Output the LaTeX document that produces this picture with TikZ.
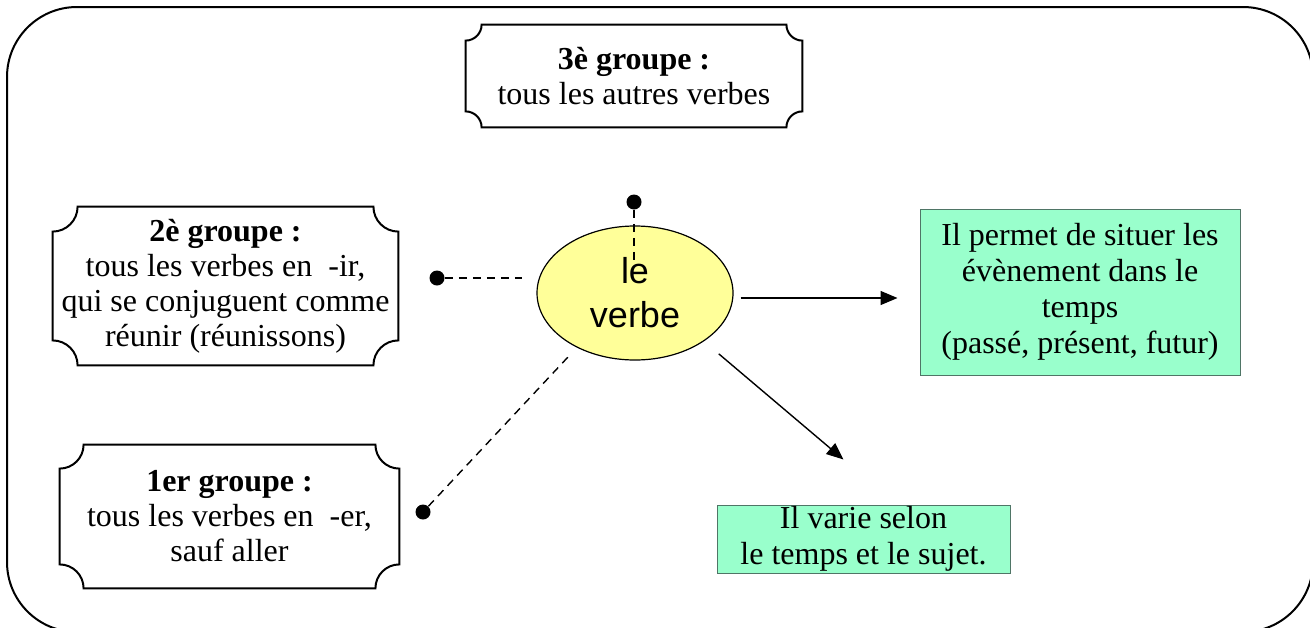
\documentclass[tikz,border=0pt]{standalone}
\usepackage{fontspec}
\setmainfont{Liberation Serif}
\setsansfont{Liberation Sans}
\usetikzlibrary{arrows.meta,shapes.geometric}

\definecolor{jaune}{HTML}{FFFF99}
\definecolor{vert}{HTML}{99FFCC}
\definecolor{bordvert}{HTML}{4F7566}

% cadre a coins creux (node, rayon)
\newcommand{\plaquecadre}[2]{%
  \draw[line width=1pt] ([xshift=#2]#1.north west) -- ([xshift=-#2]#1.north east)
    arc[start angle=180,end angle=270,radius=#2] -- ([yshift=#2]#1.south east)
    arc[start angle=90,end angle=180,radius=#2] -- ([xshift=#2]#1.south west)
    arc[start angle=0,end angle=90,radius=#2] -- ([yshift=-#2]#1.north west)
    arc[start angle=270,end angle=360,radius=#2] -- cycle;}

\begin{document}
\begin{tikzpicture}[x=0.5pt,y=-0.5pt,>={Triangle[length=8.5pt,width=7pt]},
  plaque/.style={align=center,inner sep=0pt,font=\fontsize{16}{17.5}\selectfont},
  encadre/.style={draw=bordvert,line width=0.5pt,fill=vert,align=center,inner sep=0pt,
    font=\fontsize{16}{18}\selectfont},
  pointe/.style={circle,fill,inner sep=0pt,minimum size=7.5pt},
  tirets/.style={line width=0.7pt,dash pattern=on 4pt off 3pt},
  fleche/.style={->,line width=0.7pt}]
	\useasboundingbox (0,0) rectangle (1310,627);
	\draw[line width=1pt,rounded corners=35pt] (7,7) rectangle (1313,632);

	\node[plaque,minimum width=168pt,minimum height=51pt] (groupe3) at (634,76)
		{\textbf{3è groupe :}\\tous les autres verbes};
	\plaquecadre{groupe3}{8pt}
	\node[plaque,minimum width=172.5pt,minimum height=79pt] (groupe2) at (225.5,286)
		{\textbf{2è groupe :}\\tous les verbes en~~-ir,\\qui se conjuguent comme\\réunir (réunissons)};
	\plaquecadre{groupe2}{12.5pt}
	\node[plaque,minimum width=169.5pt,minimum height=71.5pt] (groupe1) at (229.5,516.5)
		{\textbf{1er groupe :}\\tous les verbes en~~-er,\\sauf aller};
	\plaquecadre{groupe1}{12pt}

	\node[ellipse,draw,line width=0.6pt,fill=jaune,minimum width=98pt,minimum height=67pt,
		inner sep=0pt,align=center,font=\sffamily\fontsize{18}{22}\selectfont] (verbe) at (635,293)
		{le\\verbe};

	\node[encadre,minimum width=160pt,minimum height=83pt] (temps) at (1080,292)
		{Il permet de situer les\\évènement dans le\\temps\\(passé, présent, futur)};
	\node[encadre,minimum width=146.5pt,minimum height=34pt] (varie) at (863.5,539)
		{Il varie selon\\le temps et le sujet.};

	\draw[fleche] ([shift={(7,5)}]verbe.east) -- ([shift={(-22,6)}]temps.west);
	\draw[fleche] ([shift={(14,13)}]verbe.south east) -- ([shift={(-20,-45)}]varie.north);

	% points et tirets
	\node[pointe] (haut) at (634,202) {};
	\node[pointe] (gauche) at (437,278) {};
	\node[pointe] (bas) at (423,512) {};
	\coordinate (haut-fin) at (634,266);
	\coordinate (gauche-fin) at (522,278);
	\coordinate (bas-fin) at (568,357);
	\draw[tirets] (haut) -- (haut-fin);
	\draw[tirets] (gauche) -- (gauche-fin);
	\draw[tirets] (bas) -- (bas-fin);
\end{tikzpicture}
\end{document}
